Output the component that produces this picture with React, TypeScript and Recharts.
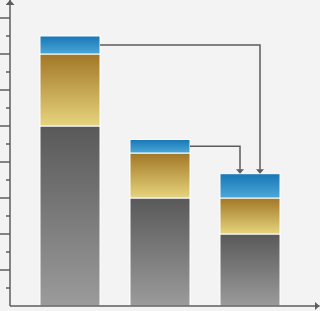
import { Bar, BarChart, XAxis, YAxis } from 'recharts'

const categories = ['A', 'B', 'C']
const baseValues = [10, 6, 4]
const midValues = [4, 2.5, 2]
const topValues = [1, 0.75, 1.35]
const yTicks = [1, 2, 3, 4, 5, 6, 7, 8, 9, 10, 11, 12, 13, 14, 15, 16]
// top segments of these bars are linked by arrows into the target bar
const linkSources = [0, 1]
const linkTarget = 2

const data = categories.map((name, i) => ({
  name,
  base: baseValues[i],
  mid: midValues[i],
  top: topValues[i],
}))

const AXIS = '#5c5c5c'
const BG = '#f2f3f2'

type Box = { x: number; y: number; width: number; height: number }
const topBoxes: Record<number, Box> = {}

function segment(fill: string) {
  return (props: any) => (
    <rect
      x={props.x}
      y={props.y}
      width={props.width}
      height={props.height}
      fill={fill}
      stroke="#fff"
      strokeWidth={1}
    />
  )
}

function TopShape(props: any) {
  const { x, y, width, height, index } = props
  topBoxes[index] = { x, y, width, height }
  const rect = (
    <rect x={x} y={y} width={width} height={height} fill="url(#gBlue)" stroke="#fff" strokeWidth={1} />
  )
  if (index !== linkTarget) return rect
  const cx = x + width / 2
  return (
    <g>
      {rect}
      {linkSources.map((s, k) => {
        const b = topBoxes[s]
        if (!b) return null
        const sy = b.y + b.height / 2
        const ex = cx + (k === 0 ? 10 : -10)
        return (
          <g key={s}>
            <polyline
              points={`${b.x + b.width},${sy} ${ex},${sy} ${ex},${y - 4}`}
              fill="none"
              stroke={AXIS}
              strokeWidth={1.5}
            />
            <polygon points={`${ex - 4},${y - 4.5} ${ex + 4},${y - 4.5} ${ex},${y}`} fill={AXIS} />
          </g>
        )
      })}
    </g>
  )
}

function YTick({ x, y, payload }: any) {
  const major = payload.value % 2 === 0
  return <line x1={major ? x - 10 : x - 4} x2={x} y1={y} y2={y} stroke={AXIS} strokeWidth={1.5} />
}

export default function App() {
  return (
    <div style={{ width: 320, height: 311, background: BG }}>
      <style>{`body{margin:0;background:${BG}}`}</style>
      <svg width={0} height={0} style={{ position: 'absolute' }}>
        <defs>
          <linearGradient id="gBlue" x1="0" y1="0" x2="0" y2="1">
            <stop offset="0%" stopColor="#1776b6" />
            <stop offset="100%" stopColor="#4ba8d7" />
          </linearGradient>
          <linearGradient id="gGold" x1="0" y1="0" x2="0" y2="1">
            <stop offset="0%" stopColor="#a17726" />
            <stop offset="100%" stopColor="#e7d47e" />
          </linearGradient>
          <linearGradient id="gGray" x1="0" y1="0" x2="0" y2="1">
            <stop offset="0%" stopColor="#595959" />
            <stop offset="100%" stopColor="#9b9b9b" />
          </linearGradient>
          <marker
            id="axisArrow"
            viewBox="0 0 5 9"
            refX={5}
            refY={4.5}
            markerWidth={5}
            markerHeight={9}
            markerUnits="userSpaceOnUse"
            orient="auto-start-reverse"
          >
            <path d="M0,0 L5,4.5 L0,9 z" fill={AXIS} />
          </marker>
        </defs>
      </svg>
      <BarChart width={320} height={311} data={data} margin={{ top: 0, right: 0.5, bottom: 0, left: 0 }}>
        <XAxis
          dataKey="name"
          height={5}
          tick={false}
          tickLine={false}
          padding={{ left: 15, right: 24.5 }}
          axisLine={{ stroke: AXIS, strokeWidth: 1.5, markerEnd: 'url(#axisArrow)' }}
        />
        <YAxis
          width={10}
          domain={[0, 17]}
          ticks={yTicks}
          interval={0}
          tickSize={0}
          tickMargin={0}
          tickLine={false}
          tick={<YTick />}
          axisLine={{ stroke: AXIS, strokeWidth: 1.5, markerStart: 'url(#axisArrow)' }}
        />
        <Bar dataKey="base" stackId="s" barSize={60} shape={segment('url(#gGray)')} isAnimationActive={false} />
        <Bar dataKey="mid" stackId="s" barSize={60} shape={segment('url(#gGold)')} isAnimationActive={false} />
        <Bar dataKey="top" stackId="s" barSize={60} shape={TopShape} isAnimationActive={false} />
      </BarChart>
    </div>
  )
}
